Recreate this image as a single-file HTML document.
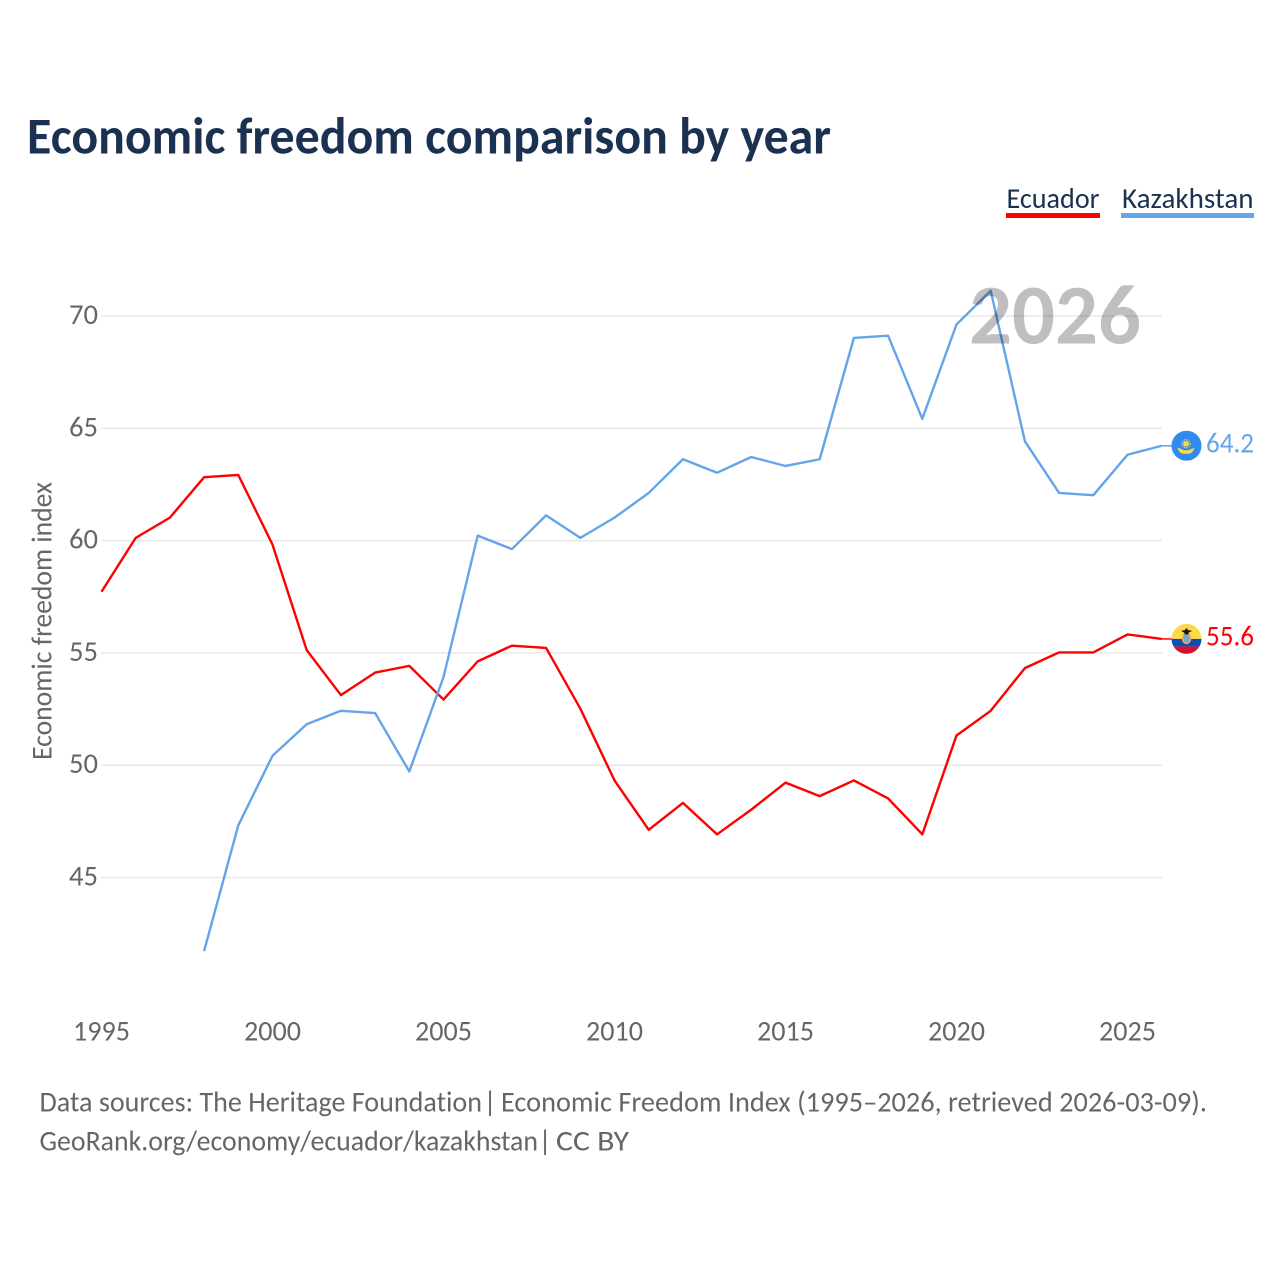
<!DOCTYPE html>
<html lang="en">
<head>
<meta charset="utf-8">
<title>Economic freedom comparison by year</title>
<style>
html,body{margin:0;padding:0;background:#fff;width:1280px;height:1280px;overflow:hidden}
svg{display:block}
text{font-family:"Carlito","Lato","Liberation Sans",sans-serif;font-variant-ligatures:none}
</style>
</head>
<body>
<svg id="chart" width="1280" height="1280" viewBox="0 0 1280 1280" xmlns="http://www.w3.org/2000/svg">
  <defs>
    <clipPath id="flag-clip"><circle cx="0" cy="0" r="15"></circle></clipPath>
  </defs>
  <text x="27" y="153.5" font-size="52" font-weight="700" fill="#1a3152" textLength="804" lengthAdjust="spacingAndGlyphs">Economic freedom comparison by year</text>

  <g>
    <g>
      <text x="1006.5" y="208" font-size="29" fill="#1a3152" textLength="93" lengthAdjust="spacingAndGlyphs">Ecuador</text>
      <rect x="1006" y="213" width="94" height="5" fill="#ff0000"></rect>
    </g>
    <g>
      <text x="1122" y="208" font-size="29" fill="#1a3152" textLength="131.5" lengthAdjust="spacingAndGlyphs">Kazakhstan</text>
      <rect x="1121" y="213" width="133" height="5" fill="#63a4ea"></rect>
    </g>
  </g>

  <g id="grid"></g>
  <g id="y-ticks"></g>
  <g id="x-ticks"></g>
  <text transform="translate(51.5,621) rotate(-90)" text-anchor="middle" font-size="28.5" fill="#666666" textLength="278" lengthAdjust="spacingAndGlyphs">Economic freedom index</text>

  <g id="series" transform="translate(0,-0.5)"></g>

  <text id="year-watermark" x="969" y="343.5" font-size="85" font-weight="700" fill="#000000" fill-opacity="0.25" textLength="172" lengthAdjust="spacingAndGlyphs">2026</text>

  <g id="end-ecuador">
    <g clip-path="url(#flag-clip)">
      <rect x="-15" y="-15" width="30" height="15" fill="#ffd84a"></rect>
      <rect x="-15" y="0" width="30" height="7.5" fill="#0a4fb5"></rect>
      <rect x="-15" y="7.5" width="30" height="7.5" fill="#d5112e"></rect>
      <ellipse cx="0" cy="-0.5" rx="4.8" ry="5.8" fill="#f2a93b"></ellipse>
      <ellipse cx="0" cy="-0.5" rx="3" ry="4.2" fill="#6fa6d8"></ellipse>
      <path d="M-5.5,-8 L-1.5,-8.8 L0,-11 L1.5,-8.8 L5.5,-8 L2,-6.2 L2,-4.5 L-2,-4.5 L-2,-6.2 Z" fill="#111111"></path>
    </g>
  </g>
  <g id="end-kazakhstan">
    <g clip-path="url(#flag-clip)">
      <rect x="-15" y="-15" width="30" height="30" fill="#2f8bee"></rect>
      <circle cx="-0.5" cy="-2" r="2.8" fill="#ffd84a"></circle>
      <circle cx="-0.5" cy="-2" r="4" fill="none" stroke="#ffd84a" stroke-width="1.3" stroke-dasharray="1.2 1.2"></circle>
      <path d="M-9,2 Q-5,3 -3,4.5 L2.5,4.5 Q4.5,3 8,2 Q6,8 2,8 L-3,8 Q-7,8 -9,2 Z" fill="#ffd84a"></path>
    </g>
  </g>

  <g>
    <g font-size="28.5" fill="#666666">
      <text x="39.5" y="1111.5" textLength="442.5" lengthAdjust="spacingAndGlyphs">Data sources: The Heritage Foundation</text>
      <text x="483.5" y="1111.5">|</text>
      <text x="501" y="1111.5" textLength="706" lengthAdjust="spacingAndGlyphs">Economic Freedom Index (1995–2026, retrieved 2026-03-09).</text>
    </g>
    <g font-size="28.5" fill="#666666">
      <text x="39.5" y="1150.5" textLength="498.5" lengthAdjust="spacingAndGlyphs">GeoRank.org/economy/ecuador/kazakhstan</text>
      <text x="538.5" y="1150.5">|</text>
      <text x="556" y="1150.5" textLength="73" lengthAdjust="spacingAndGlyphs">CC BY</text>
    </g>
  </g>
</svg>
<script>
const years = [1995,1996,1997,1998,1999,2000,2001,2002,2003,2004,2005,2006,2007,2008,2009,2010,2011,2012,2013,2014,2015,2016,2017,2018,2019,2020,2021,2022,2023,2024,2025,2026];
const ecuadorValues = [57.7,60.1,61.0,62.8,62.9,59.8,55.1,53.1,54.1,54.4,52.9,54.6,55.3,55.2,52.5,49.3,47.1,48.3,46.9,48.0,49.2,48.6,49.3,48.5,46.9,51.3,52.4,54.3,55.0,55.0,55.8,55.6];
const kazakhstanValues = [null,null,null,41.7,47.3,50.4,51.8,52.4,52.3,49.7,53.9,60.2,59.6,61.1,60.1,61.0,62.1,63.6,63.0,63.7,63.3,63.6,69.0,69.1,65.4,69.6,71.1,64.4,62.1,62.0,63.8,64.2];
const yTickValues = [45,50,55,60,65,70];
const xTickValues = [1995,2000,2005,2010,2015,2020,2025];

const SVGNS = 'http://www.w3.org/2000/svg';
function xScale(year){ return 101.5 + (year - 1995) * (1161.7 - 101.5) / 31; }
function yScale(value){ return 316 + (70 - value) * 22.46; }
function make(tag, parent, attrs){
  const el = document.createElementNS(SVGNS, tag);
  for (const k in attrs) el.setAttribute(k, attrs[k]);
  parent.appendChild(el);
  return el;
}

const gridGroup = document.getElementById('grid');
const yTickGroup = document.getElementById('y-ticks');
yTickValues.forEach(function(v){
  const line = make('line', gridGroup, {x1:101, x2:1162, y1:yScale(v), y2:yScale(v), stroke:'#e8e8e8', 'stroke-width':1.5});
  
  
  const label = make('text', yTickGroup, {x:98, y:yScale(v) + 8, 'text-anchor':'end', 'font-size':28.5, fill:'#666666', textLength:29, lengthAdjust:'spacingAndGlyphs'});
  label.textContent = String(v);
  
  
});

const xTickGroup = document.getElementById('x-ticks');
xTickValues.forEach(function(v){
  const label = make('text', xTickGroup, {x:xScale(v), y:1040.5, 'text-anchor':'middle', 'font-size':28.5, fill:'#666666', textLength:57, lengthAdjust:'spacingAndGlyphs'});
  label.textContent = String(v);
  
  
});

function drawSeries(values, color, key){
  const group = document.getElementById('series');
  const pts = [];
  values.forEach(function(v, i){
    if (v !== null) pts.push(xScale(years[i]).toFixed(2) + ',' + yScale(v).toFixed(2));
  });
  const line = make('polyline', group, {points:pts.join(' '), fill:'none', stroke:color, 'stroke-width':2.4, 'stroke-linejoin':'round'});
  
  

  const last = values[values.length - 1];
  const lastX = xScale(years[years.length - 1]);
  const y = yScale(last);
  const connector = make('line', group, {x1:lastX, x2:1172, y1:y, y2:y, stroke:color, 'stroke-width':1.5});
  
  

  const marker = document.getElementById('end-' + key);
  marker.setAttribute('transform', 'translate(1186.5,' + (y - 0.5) + ')');
  const label = make('text', marker, {x:19.5, y:6.5, 'font-size':28.5, fill:color, textLength:48, lengthAdjust:'spacingAndGlyphs'});
  label.textContent = last.toFixed(1);
  
  
}
drawSeries(ecuadorValues, '#ff0000', 'ecuador');
drawSeries(kazakhstanValues, '#63a4ea', 'kazakhstan');
</script>
</body>
</html>
